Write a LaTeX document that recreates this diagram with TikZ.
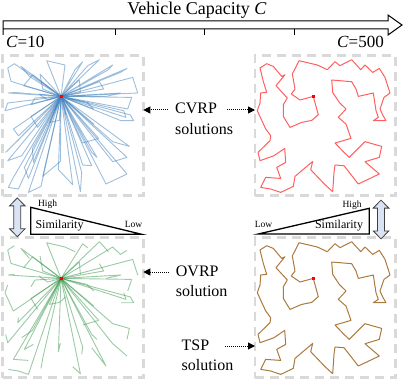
\documentclass[tikz,border=0pt]{standalone}
\usepackage{fontspec}
\setmainfont{Liberation Serif}
\usetikzlibrary{arrows.meta,positioning}
\definecolor{cvrpblue}{RGB}{60,125,185}
\definecolor{ovrpgreen}{RGB}{55,150,75}
\definecolor{tspred}{RGB}{255,95,95}
\definecolor{tspbrown}{RGB}{170,122,62}
\definecolor{panelgray}{RGB}{217,217,217}
\definecolor{arrowfill}{RGB}{218,227,243}
\newcommand{\fs}[1]{\fontsize{#1}{#1}\selectfont}
% customers in tour order, p0 is the depot (panel coordinates)
\newcommand{\custlist}{58.3/40.7, 45/44.3, 36.3/38.3, 40/33.3, 37.3/18.3, 44/5, 62.3/9.3, 72.3/14, 80/6, 85/10, 96.7/4, 105.7/14, 110/9.3, 117.7/16.7, 124.3/12.7, 130/21.7, 135/37.3, 129/41.7, 125/53.3, 127.7/59.3, 131/65, 118.3/65, 123.3/61.7, 121/55, 118.3/37.3, 103.3/40.7, 101/33.3, 96.7/26, 76.7/24.3, 77.7/36.7, 84.3/46.7, 91/53.3, 83.3/61.7, 91/68.3, 96/82.7, 80/87.3, 89/96.7, 94.3/101.7, 110/86, 126.7/90.7, 124.3/101.7, 110/106, 124.3/118.3, 103.3/128.3, 89/110, 80/109.3, 79/116.7, 77.7/136, 70/129, 55.7/114, 57.7/105.7, 40/120.7, 38.3/130.7, 25.7/136.7, 15.7/133.3, 5.7/131.7, 10.7/121.7, 25.7/122.7, 21.7/111.7, 30.7/106.7, 29.7/92.7, 19/100, 5/105, 3/96.7, 15/85, 15.7/80, 10.7/73.3, 2.3/55, 5/47.3, 5.7/37.3, 11.7/36.7, 8.3/25.7, 5/12.3, 11.7/8, 18.3/10.7, 26.7/20.7, 30/19, 21/30, 32.3/42.3, 28.3/49, 28.3/60.7, 35/71.7, 46.7/66.7, 56.7/64.7, 63.3/59}
\newcommand{\cvrproutes}{1/2, 3/4, 5/6, 7/8, 9/10, 11/12, 13/14, 15/16, 17/18, 19/21, 22/23, 24/25, 26/27, 28/29, 30/31, 32/33, 34/35, 36/37, 38/39, 40/41, 42/43, 44/45, 46/47, 48/49, 50/51, 52/53, 54/56, 57/58, 59/60, 61/62, 63/64, 65/66, 67/68, 69/70, 71/73, 74/75, 76/77, 78/79, 80/81, 82/83, 84/84}
\newcommand{\ovrproutes}{1/2, 3/4, 5/7, 8/9, 10/11, 12/14, 15/16, 17/18, 19/21, 22/23, 24/25, 26/27, 28/29, 30/31, 32/33, 34/35, 36/37, 38/40, 41/42, 43/44, 45/46, 47/48, 49/50, 51/52, 53/55, 56/57, 58/59, 60/61, 62/63, 64/65, 66/68, 69/70, 71/73, 74/75, 76/77, 78/79, 80/81, 82/84}
\newcommand{\setcust}{\foreach \u/\v [count=\i from 0] in \custlist {\coordinate (p\i) at (\u,\v);}}

\begin{document}
\begin{tikzpicture}[
  x=1pt, y=-1pt,
  panel/.style={draw=panelgray, line width=2.5pt, dash pattern=on 9pt off 6pt, minimum width=140.6pt, minimum height=140pt, outer sep=0pt},
  route/.style={line width=0.9pt, opacity=0.5, line join=round},
  tour/.style={line width=1pt, line join=round},
  depot/.style={fill=red, minimum size=3pt, inner sep=0pt},
  axis/.style={line width=1pt, line join=miter},
  tri/.style={line width=1.3pt, line join=miter},
  lbl/.style={font=\fs{16}, anchor=west, inner xsep=0pt, inner ysep=2pt, text height=12pt, text depth=4pt},
  sim/.style={font=\fs{12}},
  lvl/.style={font=\fs{9.5}},
  ptr/.style={densely dotted, line width=1pt, -{Triangle[length=7pt,width=7pt]}},
  dblarr/.style={draw=black!75, fill=arrowfill, line width=0.8pt},
  updown/.pic={\draw[dblarr] (0,-19.4) -- (7.8,-11.4) -- (3.5,-11.4) -- (3.5,11.4) -- (7.8,11.4) -- (0,19.4) -- (-7.8,11.4) -- (-3.5,11.4) -- (-3.5,-11.4) -- (-7.8,-11.4) -- cycle;}
]
  \useasboundingbox (0,0) rectangle (404,382);

  % capacity axis
  \node[font=\fs{18}] (title) at (197,10) {Vehicle Capacity \textit{C}};
  \draw[axis] (3,35) -- (3,21) -- (388,21) -- (388,15) -- (402,25) -- (388,35) -- (388,29) -- (3,29);
  \foreach \tx in {115,204,294} \draw[axis] (\tx,29) -- (\tx,35);
  \node[font=\fs{17}, anchor=west, inner sep=0pt] (cmin) at (6,42) {\textit{C}=10};
  \node[font=\fs{17}, anchor=east, inner sep=0pt] (cmax) at (384,42) {\textit{C}=500};

  % panels
  \node[panel] (tl) at (73,125.7) {};
  \node[panel, right=111.7pt of tl] (tr) {};
  \node[panel, below=42pt of tl] (bl) {};
  \node[panel, below=42pt of tr] (br) {};

  % CVRP, C=10
  \begin{scope}[shift={(tl.north west)}]
    \setcust
    \foreach \a/\b in \cvrproutes {\draw[route, cvrpblue] (p0) \foreach \j in {\a,...,\b} {-- (p\j)} -- (p0);}
    \node[depot] (d1) at (p0) {};
  \end{scope}

  % CVRP, C=500
  \begin{scope}[shift={(tr.north west)}]
    \setcust
    \draw[tour, tspred] (p0) \foreach \i in {1,...,84} {-- (p\i)} -- cycle;
    \node[depot] (d2) at (p0) {};
  \end{scope}

  % OVRP
  \begin{scope}[shift={(bl.north west)}]
    \setcust
    \foreach \a/\b in \ovrproutes {\draw[route, ovrpgreen] (p0) \foreach \j in {\a,...,\b} {-- (p\j)};}
    \node[depot] (d3) at (p0) {};
  \end{scope}

  % TSP
  \begin{scope}[shift={(br.north west)}]
    \setcust
    \draw[tour, tspbrown] (p0) \foreach \i in {1,...,84} {-- (p\i)} -- cycle;
    \node[depot] (d4) at (p0) {};
  \end{scope}

  % similarity wedges
  \draw[tri] (30.7,207.3) -- (30.7,234.3) -- (141.7,234.3) -- cycle;
  \draw[tri] (258.3,234) -- (369.3,234) -- (369.3,208.3) -- cycle;
  \node[lvl] (hiL) at (47.5,204.5) {High};
  \node[lvl] (loL) at (133.5,224) {Low};
  \node[sim] (simL) at (59.5,226) {Similarity};
  \node[lvl] (loR) at (263.5,224) {Low};
  \node[lvl] (hiR) at (352,205) {High};
  \node[sim] (simR) at (339,226) {Similarity};
  \pic (udL) at (17.3,217.3) {updown};
  \pic (udR) at (381,219.5) {updown};

  % labels
  \node[lbl] (cvrp) at (175,110) {CVRP};
  \node[lbl, below=0pt of cvrp.south west, anchor=north west] (cvrpsol) {solutions};
  \node[lbl] (ovrp) at (175.7,272) {OVRP};
  \node[lbl, below=0pt of ovrp.south west, anchor=north west] (ovrpsol) {solution};
  \node[lbl] (tsp) at (181.5,346) {TSP};
  \node[lbl, below=0pt of tsp.south west, anchor=north west] (tspsol) {solution};

  \draw[ptr] ([xshift=-7pt]cvrp.west) -- (cvrp.west -| tl.east);
  \draw[ptr] ([xshift=10pt]cvrp.east) -- (cvrp.east -| tr.west);
  \draw[ptr] ([xshift=-7pt]ovrp.west) -- (ovrp.west -| bl.east);
  \draw[ptr] ([xshift=16pt]tsp.east) -- (tsp.east -| br.west);
\end{tikzpicture}
\end{document}
